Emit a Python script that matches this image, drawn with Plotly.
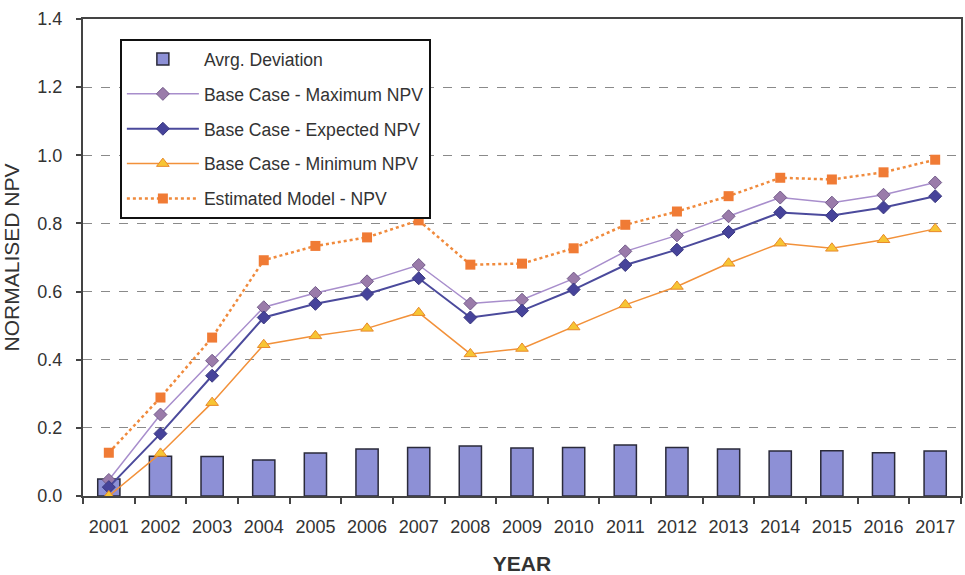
import plotly.graph_objects as go

# Normalised NPV per year, base-case scenarios versus estimated model
years = ["2001", "2002", "2003", "2004", "2005", "2006", "2007", "2008", "2009",
         "2010", "2011", "2012", "2013", "2014", "2015", "2016", "2017"]

avg_deviation = [0.050, 0.117, 0.116, 0.106, 0.126, 0.138, 0.142, 0.147, 0.141,
                 0.142, 0.150, 0.142, 0.138, 0.132, 0.133, 0.127, 0.132]
max_npv = [0.047, 0.239, 0.397, 0.554, 0.596, 0.630, 0.678, 0.565, 0.576,
           0.638, 0.718, 0.765, 0.821, 0.876, 0.861, 0.884, 0.920]
expected_npv = [0.026, 0.183, 0.353, 0.524, 0.564, 0.593, 0.639, 0.524, 0.544,
                0.606, 0.678, 0.723, 0.775, 0.832, 0.823, 0.847, 0.880]
min_npv = [0.000, 0.125, 0.274, 0.444, 0.470, 0.492, 0.538, 0.417, 0.433,
           0.496, 0.561, 0.615, 0.683, 0.742, 0.727, 0.752, 0.784]
model_npv = [0.127, 0.289, 0.465, 0.692, 0.734, 0.759, 0.809, 0.679, 0.682,
             0.727, 0.796, 0.835, 0.880, 0.934, 0.929, 0.950, 0.987]

y_ticks = [0.0, 0.2, 0.4, 0.6, 0.8, 1.0, 1.2, 1.4]

FONT = "Liberation Sans, Arial, sans-serif"

fig = go.Figure()

fig.add_trace(go.Bar(
    x=years, y=avg_deviation, name="Avrg. Deviation",
    width=0.43,
    marker=dict(color="#8D90D6", line=dict(color="#2A2A3A", width=1.5)),
    legendgroup="a",
))
fig.add_trace(go.Scatter(
    x=years, y=max_npv, name="Base Case - Maximum NPV", mode="lines+markers",
    line=dict(color="#A88ECC", width=1.5),
    marker=dict(symbol="diamond", size=10, color="#9A7BAA",
                line=dict(color="#735C8A", width=1)),
    legendgroup="b",
))
fig.add_trace(go.Scatter(
    x=years, y=expected_npv, name="Base Case - Expected NPV", mode="lines+markers",
    line=dict(color="#4B4A9C", width=2),
    marker=dict(symbol="diamond", size=10, color="#46439A",
                line=dict(color="#3A3880", width=1)),
    legendgroup="c",
))
fig.add_trace(go.Scatter(
    x=years, y=min_npv, name="Base Case - Minimum NPV", mode="lines+markers",
    line=dict(color="#F2913A", width=1.5),
    marker=dict(symbol="triangle-up", size=11, color="#F7C534",
                line=dict(color="#E8892C", width=1)),
    legendgroup="d",
))
fig.add_trace(go.Scatter(
    x=years, y=model_npv, name="Estimated Model - NPV", mode="lines+markers",
    line=dict(color="#F08A3C", width=2.5, dash="dot"),
    marker=dict(symbol="square", size=10, color="#F07B35"),
    legendgroup="e",
))

fig.update_layout(
    width=965, height=575,
    margin=dict(l=83, r=2, t=19, b=78),
    paper_bgcolor="white", plot_bgcolor="white",
    font=dict(family=FONT, color="#333333"),
    bargap=0.57,
    showlegend=True,
    legend=dict(
        x=0.042, y=0.958, xanchor="left", yanchor="top",
        bgcolor="white", bordercolor="#111111", borderwidth=2,
        font=dict(size=17.6, color="#333333", family=FONT),
        tracegroupgap=9, itemwidth=72,
        traceorder="grouped",
    ),
)

fig.update_xaxes(
    type="category", range=[-0.5, 16.5],
    showline=True, linecolor="#444444", linewidth=2, mirror=True,
    ticks="outside", ticklen=6, tickcolor="#444444", tickwidth=2,
    tickson="boundaries",
    tickfont=dict(size=18, color="#333333"),
    ticklabelstandoff=13,
    showgrid=False,
    title=dict(text="<b>YEAR</b>", font=dict(size=21, color="#333333"), standoff=22),
)
fig.update_yaxes(
    range=[0, 1.4], tickvals=y_ticks, tickformat=".1f",
    showline=True, linecolor="#444444", linewidth=2, mirror=True,
    ticks="outside", ticklen=5, tickcolor="#444444", tickwidth=2,
    tickfont=dict(size=18, color="#333333"),
    ticklabelstandoff=10,
    showgrid=True, gridcolor="#8A8A8A", gridwidth=1, griddash="dash",
    zeroline=False,
    title=dict(text="NORMALISED NPV", font=dict(size=21, color="#333333"), standoff=12),
)

fig.write_html("out.html")
